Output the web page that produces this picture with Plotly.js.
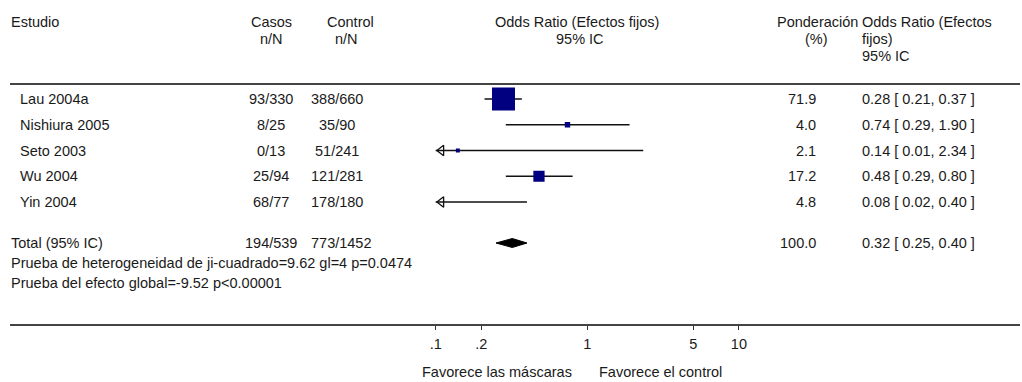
<!DOCTYPE html>
<html>
<head>
<meta charset="utf-8">
<script src="https://cdn.plot.ly/plotly-3.0.1.min.js"></script>
<style>html,body{margin:0;padding:0;background:#fff;}#chart{width:1022px;height:382px;}</style>
</head>
<body>
<div id="chart"></div>
<script>
// ---- data ----
const studies = ['Lau 2004a', 'Nishiura 2005', 'Seto 2003', 'Wu 2004', 'Yin 2004'];
const casosEvents = [93, 8, 0, 25, 68];
const casosTotal = [330, 25, 13, 94, 77];
const controlEvents = [388, 35, 51, 121, 178];
const controlTotal = [660, 90, 241, 281, 180];
const weights = [71.9, 4.0, 2.1, 17.2, 4.8];
const oddsRatio = [0.28, 0.74, 0.14, 0.48, 0.08];
const ciLow = [0.21, 0.29, 0.01, 0.29, 0.02];
const ciHigh = [0.37, 1.90, 2.34, 0.80, 0.40];
const totalLabel = 'Total (95% IC)';
const totalCasos = [194, 539];
const totalControl = [773, 1452];
const totalWeight = 100.0;
const totalOR = 0.32, totalLow = 0.25, totalHigh = 0.40;
const statLines = ['Prueba de heterogeneidad de ji-cuadrado=9.62 gl=4 p=0.0474',
                   'Prueba del efecto global=-9.52 p<0.00001'];
const tickVals = [0.1, 0.2, 1, 5, 10];
const tickText = ['.1', '.2', '1', '5', '10'];
const xLabels = ['Favorece las máscaras', 'Favorece el control'];

// ---- layout helpers ----
const W = 1022, H = 382;
const ROW0 = 99, ROWH = 25.75;           // pixel y of first row, row spacing
const AXIS_PX = 325, TOP_PX = 84;
const row = p => (p - ROW0) / ROWH;       // pixel y -> row units
const px = p => p / W;                    // pixel x -> paper x
const pyp = p => 1 - p / H;               // pixel y -> paper y
const FONT = {family: 'Liberation Sans, Arial, sans-serif', size: 14.5, color: '#1a1a1a'};
const XMIN = 0.1, XMAX = 10;

const COL_NAME = 18, COL_CASOS = 271, COL_CTRL = 337, COL_W = 818, COL_OR = 860;
const fmtNN = (a, b) => a + '/' + b;
const fmtOR = (o, l, h) => o.toFixed(2) + ' [ ' + l.toFixed(2) + ', ' + h.toFixed(2) + ' ]';

const ann = [];
function txt(text, xpix, y, anchor, yref) {
  ann.push({text: text, x: px(xpix), xref: 'paper', y: y, yref: yref || 'y',
            xanchor: anchor, yanchor: 'middle', showarrow: false, font: FONT});
}
// headers
const h1 = row(22), h2 = row(39), h3 = row(56);
txt('Estudio', 9, h1, 'left');
txt('Casos', COL_CASOS, h1, 'center'); txt('n/N', COL_CASOS, h2, 'center');
txt('Control', COL_CTRL + 13, h1, 'center'); txt('n/N', COL_CTRL + 9, h2, 'center');
txt('Odds Ratio (Efectos fijos)', 577, h1, 'center'); txt('95% IC', 580, h2, 'center');
txt('Ponderación', COL_OR, h1, 'right'); txt('(%)', COL_W - 2, h2, 'center');
txt('Odds Ratio (Efectos', COL_OR, h1, 'left'); txt('fijos)', COL_OR, h2, 'left'); txt('95% IC', COL_OR, h3, 'left');

// study rows
studies.forEach((s, i) => {
  txt(s, COL_NAME, i, 'left');
  txt(fmtNN(casosEvents[i], casosTotal[i]), COL_CASOS, i, 'center');
  txt(fmtNN(controlEvents[i], controlTotal[i]), COL_CTRL, i, 'center');
  txt(weights[i].toFixed(1), COL_W, i, 'right');
  txt(fmtOR(oddsRatio[i], ciLow[i], ciHigh[i]), COL_OR, i, 'left');
});
// total row
const tRow = row(243);
txt(totalLabel, 9, tRow, 'left');
txt(fmtNN(totalCasos[0], totalCasos[1]), COL_CASOS, tRow, 'center');
txt(fmtNN(totalControl[0], totalControl[1]), COL_CTRL + 4, tRow, 'center');
txt(totalWeight.toFixed(1), COL_W, tRow, 'right');
txt(fmtOR(totalOR, totalLow, totalHigh), COL_OR, tRow, 'left');
txt(statLines[0], 9, row(263), 'left');
txt(statLines[1], 9, row(283), 'left');
// bottom labels
txt(xLabels[0], 574, pyp(372), 'right', 'paper');
txt(xLabels[1], 597, pyp(372), 'left', 'paper');

// ---- traces ----
const traces = [];
const idx = studies.map((s, i) => i);
// CI lines
idx.forEach(i => {
  traces.push({x: [ciLow[i], ciHigh[i]], y: [i, i], mode: 'lines', type: 'scatter',
               line: {color: '#111', width: 1.3}, hoverinfo: 'skip'});
});
// point estimates (square area proportional to weight)
const maxW = Math.max(...weights);
traces.push({x: oddsRatio, y: idx, mode: 'markers', type: 'scatter',
             marker: {symbol: 'square', color: '#000080', opacity: 1,
                      size: weights.map(w => 23 * Math.sqrt(w / maxW)), line: {width: 0}}});
// arrows for CIs truncated at the left edge
const clippedIdx = idx.filter(i => ciLow[i] < XMIN);
traces.push({x: clippedIdx.map(() => XMIN * 1.09), y: clippedIdx, mode: 'markers', type: 'scatter',
             cliponaxis: false,
             marker: {symbol: 'triangle-left-open', size: 9, color: '#111', opacity: 1,
                      line: {width: 1.3, color: '#111'}}});
// total diamond
const hd = 4.5 / ROWH;
traces.push({x: [totalLow, totalOR, totalHigh, totalOR, totalLow],
             y: [tRow, tRow - hd, tRow, tRow + hd, tRow], mode: 'lines', type: 'scatter',
             fill: 'toself', fillcolor: '#000', line: {color: '#000', width: 1}});

const layout = {
  width: W, height: H, margin: {l: 0, r: 0, t: 0, b: 0},
  paper_bgcolor: '#fff', plot_bgcolor: 'rgba(0,0,0,0)', showlegend: false,
  xaxis: {type: 'log', range: [Math.log10(XMIN), Math.log10(XMAX)], domain: [px(435.7), px(738.9)],
          tickvals: tickVals, ticktext: tickText, ticks: 'outside', ticklen: 4, tickcolor: '#333',
          tickfont: FONT, ticklabelstandoff: 2, showgrid: false, zeroline: false, showline: false,
          fixedrange: true},
  yaxis: {domain: [pyp(AXIS_PX), 1], range: [row(AXIS_PX), row(0)], visible: false, fixedrange: true},
  shapes: [
    {type: 'line', xref: 'paper', yref: 'paper', x0: px(10), x1: px(1020), y0: pyp(TOP_PX), y1: pyp(TOP_PX),
     line: {color: '#444', width: 2}},
    {type: 'line', xref: 'paper', yref: 'paper', x0: px(10), x1: px(1020), y0: pyp(AXIS_PX), y1: pyp(AXIS_PX),
     line: {color: '#444', width: 2}},
    {type: 'line', xref: 'x', yref: 'paper', x0: 0, x1: 0, y0: pyp(AXIS_PX), y1: pyp(TOP_PX),
     line: {color: '#b0b0b0', width: 1.5}}
  ],
  annotations: ann
};
Plotly.newPlot('chart', traces, layout, {displayModeBar: false, staticPlot: true});
</script>
</body>
</html>
